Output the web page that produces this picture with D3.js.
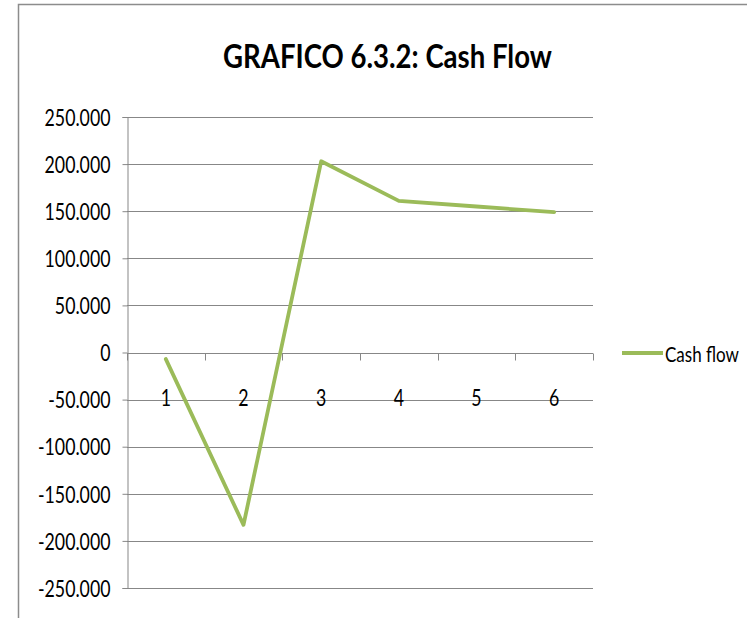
<!DOCTYPE html>
<html>
<head>
<meta charset="utf-8">
<script src="https://cdn.jsdelivr.net/npm/d3@7"></script>
<style>
  html, body { margin: 0; padding: 0; background: #fff; }
  svg { display: block; }
  text { font-family: Lato, "Open Sans", sans-serif; fill: #000; }
</style>
</head>
<body>
<svg id="chart" width="747" height="618"></svg>
<script>
// Cash flow per period
const categories = ["1", "2", "3", "4", "5", "6"];
const cashFlow = [-7000, -183000, 203000, 161000, 155000, 149000];
const yTickValues = [-250000, -200000, -150000, -100000, -50000, 0, 50000, 100000, 150000, 200000, 250000];
const titleText = "GRAFICO 6.3.2: Cash Flow";
const seriesName = "Cash flow";

const lineColor = "#9BBB59";
const gridColor = "#878787";

const svg = d3.select("#chart");
const W = 747, H = 618;

// Italian number format: thousands separated by ".", plain hyphen for negatives
const it = d3.formatLocale({ decimal: ",", thousands: ".", grouping: [3], currency: ["€", ""], minus: "-" });
const fmt = it.format(",.0f");

// Plot area
const plot = { left: 127, right: 593, top: 117, bottom: 588 };

const x = d3.scaleBand().domain(categories).range([plot.left, plot.right]).padding(0);
const y = d3.scaleLinear().domain([-250000, 250000]).range([plot.bottom, plot.top]);

// Horizontally condense a text to a given width around its anchor
function condense(sel, targetWidth, ax, ay) {
  const w = sel.node().getComputedTextLength();
  sel.attr("x", 0).attr("y", 0)
     .attr("transform", `translate(${ax},${ay}) scale(${targetWidth / w},1)`);
}

// Background and chart frame
svg.append("rect").attr("width", W).attr("height", H).attr("fill", "#fff");
svg.append("rect")
  .attr("x", 18.5).attr("y", 4.5).attr("width", 1000).attr("height", 1000)
  .attr("fill", "none").attr("stroke", "#8c8c8c").attr("stroke-width", 1.5);

// Title
const title = svg.append("text")
  .attr("text-anchor", "middle")
  .attr("font-size", 32).attr("font-weight", "bold")
  .text(titleText);
condense(title, 329, 387.5, 68);

// Horizontal gridlines
svg.append("g").selectAll("line")
  .data(yTickValues)
  .join("line")
  .attr("x1", plot.left).attr("x2", plot.right)
  .attr("y1", d => Math.round(y(d)) + 0.5).attr("y2", d => Math.round(y(d)) + 0.5)
  .attr("stroke", gridColor).attr("stroke-width", 1);

// Y axis
const yAxis = d3.axisLeft(y).tickValues(yTickValues).tickFormat(fmt).tickSize(5).tickPadding(12);
const gy = svg.append("g")
  .attr("transform", `translate(${plot.left + 0.5},0)`)
  .call(yAxis);
gy.select(".domain").attr("stroke", gridColor);
gy.selectAll(".tick line").attr("stroke", gridColor);
gy.selectAll(".tick text")
  .attr("font-size", 23)
  .attr("font-family", "Lato, 'Open Sans', sans-serif")
  .attr("fill", "#000")
  .attr("dy", "0.36em");

// narrow face: same horizontal factor for every numeric label
const refLabel = gy.selectAll(".tick text").filter(d => d === 250000).node();
const narrow = 66 / refLabel.getComputedTextLength();
gy.selectAll(".tick text").each(function () {
  const t = d3.select(this);
  const xPos = +t.attr("x");
  t.attr("x", 0).attr("transform", `translate(${xPos},0) scale(${narrow},1)`);
});

// Category axis on the zero line
const y0 = Math.round(y(0)) + 0.5;
const boundaries = categories.map(c => x(c)).concat([plot.right]);
svg.append("g").selectAll("line")
  .data(boundaries)
  .join("line")
  .attr("x1", d => Math.round(d) + 0.5).attr("x2", d => Math.round(d) + 0.5)
  .attr("y1", y0).attr("y2", y0 + 7)
  .attr("stroke", gridColor).attr("stroke-width", 1);

svg.append("g").selectAll("text")
  .data(categories)
  .join("text")
  .attr("text-anchor", "middle")
  .attr("font-size", 23)
  .attr("transform", d => `translate(${x(d) + x.bandwidth() / 2},406) scale(${narrow},1)`)
  .text(d => d);

// Series line
const line = d3.line()
  .x((d, i) => x(categories[i]) + x.bandwidth() / 2)
  .y(d => y(d));
svg.append("path")
  .datum(cashFlow)
  .attr("d", line)
  .attr("fill", "none")
  .attr("stroke", lineColor)
  .attr("stroke-width", 3.8)
  .attr("stroke-linejoin", "round")
  .attr("stroke-linecap", "round");

// Legend
const legend = svg.append("g");
legend.append("line")
  .attr("x1", 622).attr("x2", 663)
  .attr("y1", 353).attr("y2", 353)
  .attr("stroke", lineColor).attr("stroke-width", 3.8);
const legendText = legend.append("text")
  .attr("font-size", 22)
  .text(seriesName);
condense(legendText, 74, 665, 362);
</script>
</body>
</html>
